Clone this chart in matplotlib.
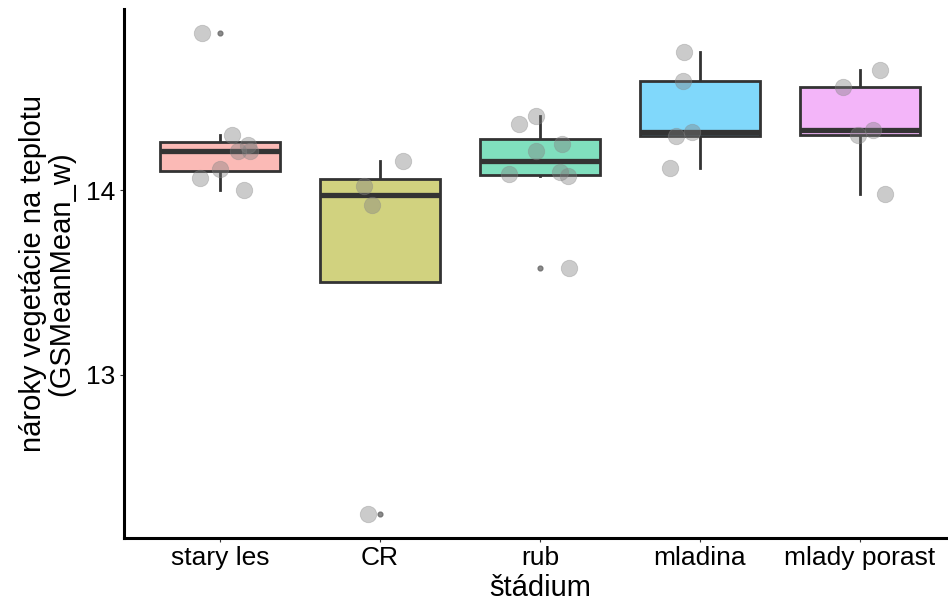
import matplotlib.pyplot as plt
import numpy as np

plt.rcParams['font.family'] = ['Liberation Sans', 'DejaVu Sans']

stages = ['stary les', 'CR', 'rub', 'mladina', 'mlady porast']
fill_colors = ['#FBBAB6', '#D1D27F', '#80DFBE', '#80D8FB', '#F3B5F9']

# values, one list per stage
stary_les = [14.85, 14.30, 14.245, 14.21, 14.21, 14.115, 14.065, 14.0]
cr = [14.156, 14.024, 13.918, 12.246]
rub = [14.358, 14.399, 14.21, 14.25, 14.085, 14.10, 14.078, 13.579]
mladina = [14.745, 14.588, 14.291, 14.315, 14.12]
mlady_porast = [14.648, 14.558, 14.30, 14.327, 13.981]

# horizontal jitter of each point (in category units)
jit_stary_les = [-0.11, 0.078, 0.175, 0.11, 0.186, 0.0, -0.125, 0.148]
jit_cr = [0.146, -0.098, -0.052, -0.073]
jit_rub = [-0.131, -0.027, -0.027, 0.14, -0.194, 0.123, 0.175, 0.181]
jit_mladina = [-0.097, -0.109, -0.15, -0.047, -0.1875]
jit_mlady_porast = [0.125, -0.109, -0.0125, 0.079, 0.156]

data = [stary_les, cr, rub, mladina, mlady_porast]
jitter = [jit_stary_les, jit_cr, jit_rub, jit_mladina, jit_mlady_porast]

W, H = 948, 603
fig = plt.figure(figsize=(W / 100, H / 100), dpi=100)
# panel in pixel coords: left 124, right 956 (clipped), top 9, bottom 538
ax = fig.add_axes([124 / W, (H - 538) / H, 832 / W, (538 - 9) / H])

pos = np.arange(1, len(stages) + 1)
bp = ax.boxplot(data, positions=pos, widths=0.75, patch_artist=True,
                showcaps=False, whis=1.5,
                boxprops=dict(edgecolor='#333333', linewidth=2.0),
                whiskerprops=dict(color='#333333', linewidth=2.0),
                medianprops=dict(color='#333333', linewidth=3.8),
                flierprops=dict(marker='o', markersize=3.4, markerfacecolor='#7f7f7f',
                                markeredgecolor='#6f6f6f', alpha=0.9))
for patch, c in zip(bp['boxes'], fill_colors):
    patch.set_facecolor(c)
    patch.set_zorder(2)
for w in bp['whiskers']:
    w.set_zorder(1.5)
for m in bp['medians']:
    m.set_zorder(2.2)

for i, (vals, jit) in enumerate(zip(data, jitter)):
    xs = pos[i] + np.array(jit)
    ax.scatter(xs, vals, s=140, color='#7f7f7f', alpha=0.4,
               edgecolors='#8a8a8a', linewidths=0.6, zorder=3)

allv = np.concatenate([np.array(d) for d in data])
rng = allv.max() - allv.min()
ax.set_ylim(allv.min() - 0.05 * rng, allv.max() + 0.05 * rng)
ax.set_xlim(0.4, len(stages) + 0.6)

ax.set_xticks(pos)
ax.set_xticklabels(stages)
ax.set_yticks([13, 14])
ax.set_yticklabels(['13', '14'])
ax.tick_params(axis='both', labelsize=19, colors='#333333', labelcolor='black',
               length=3, width=0.8, pad=3)

for s in ['top', 'right']:
    ax.spines[s].set_visible(False)
for s in ['left', 'bottom']:
    ax.spines[s].set_linewidth(2.2)
    ax.spines[s].set_color('black')

ax.set_xlabel('štádium', fontsize=21, labelpad=3)
ax.set_ylabel('nároky vegetácie na teplotu\n(GSMeanMean_w)', fontsize=21, labelpad=8,
              linespacing=1.0)

fig.savefig('out.png', dpi=100)
